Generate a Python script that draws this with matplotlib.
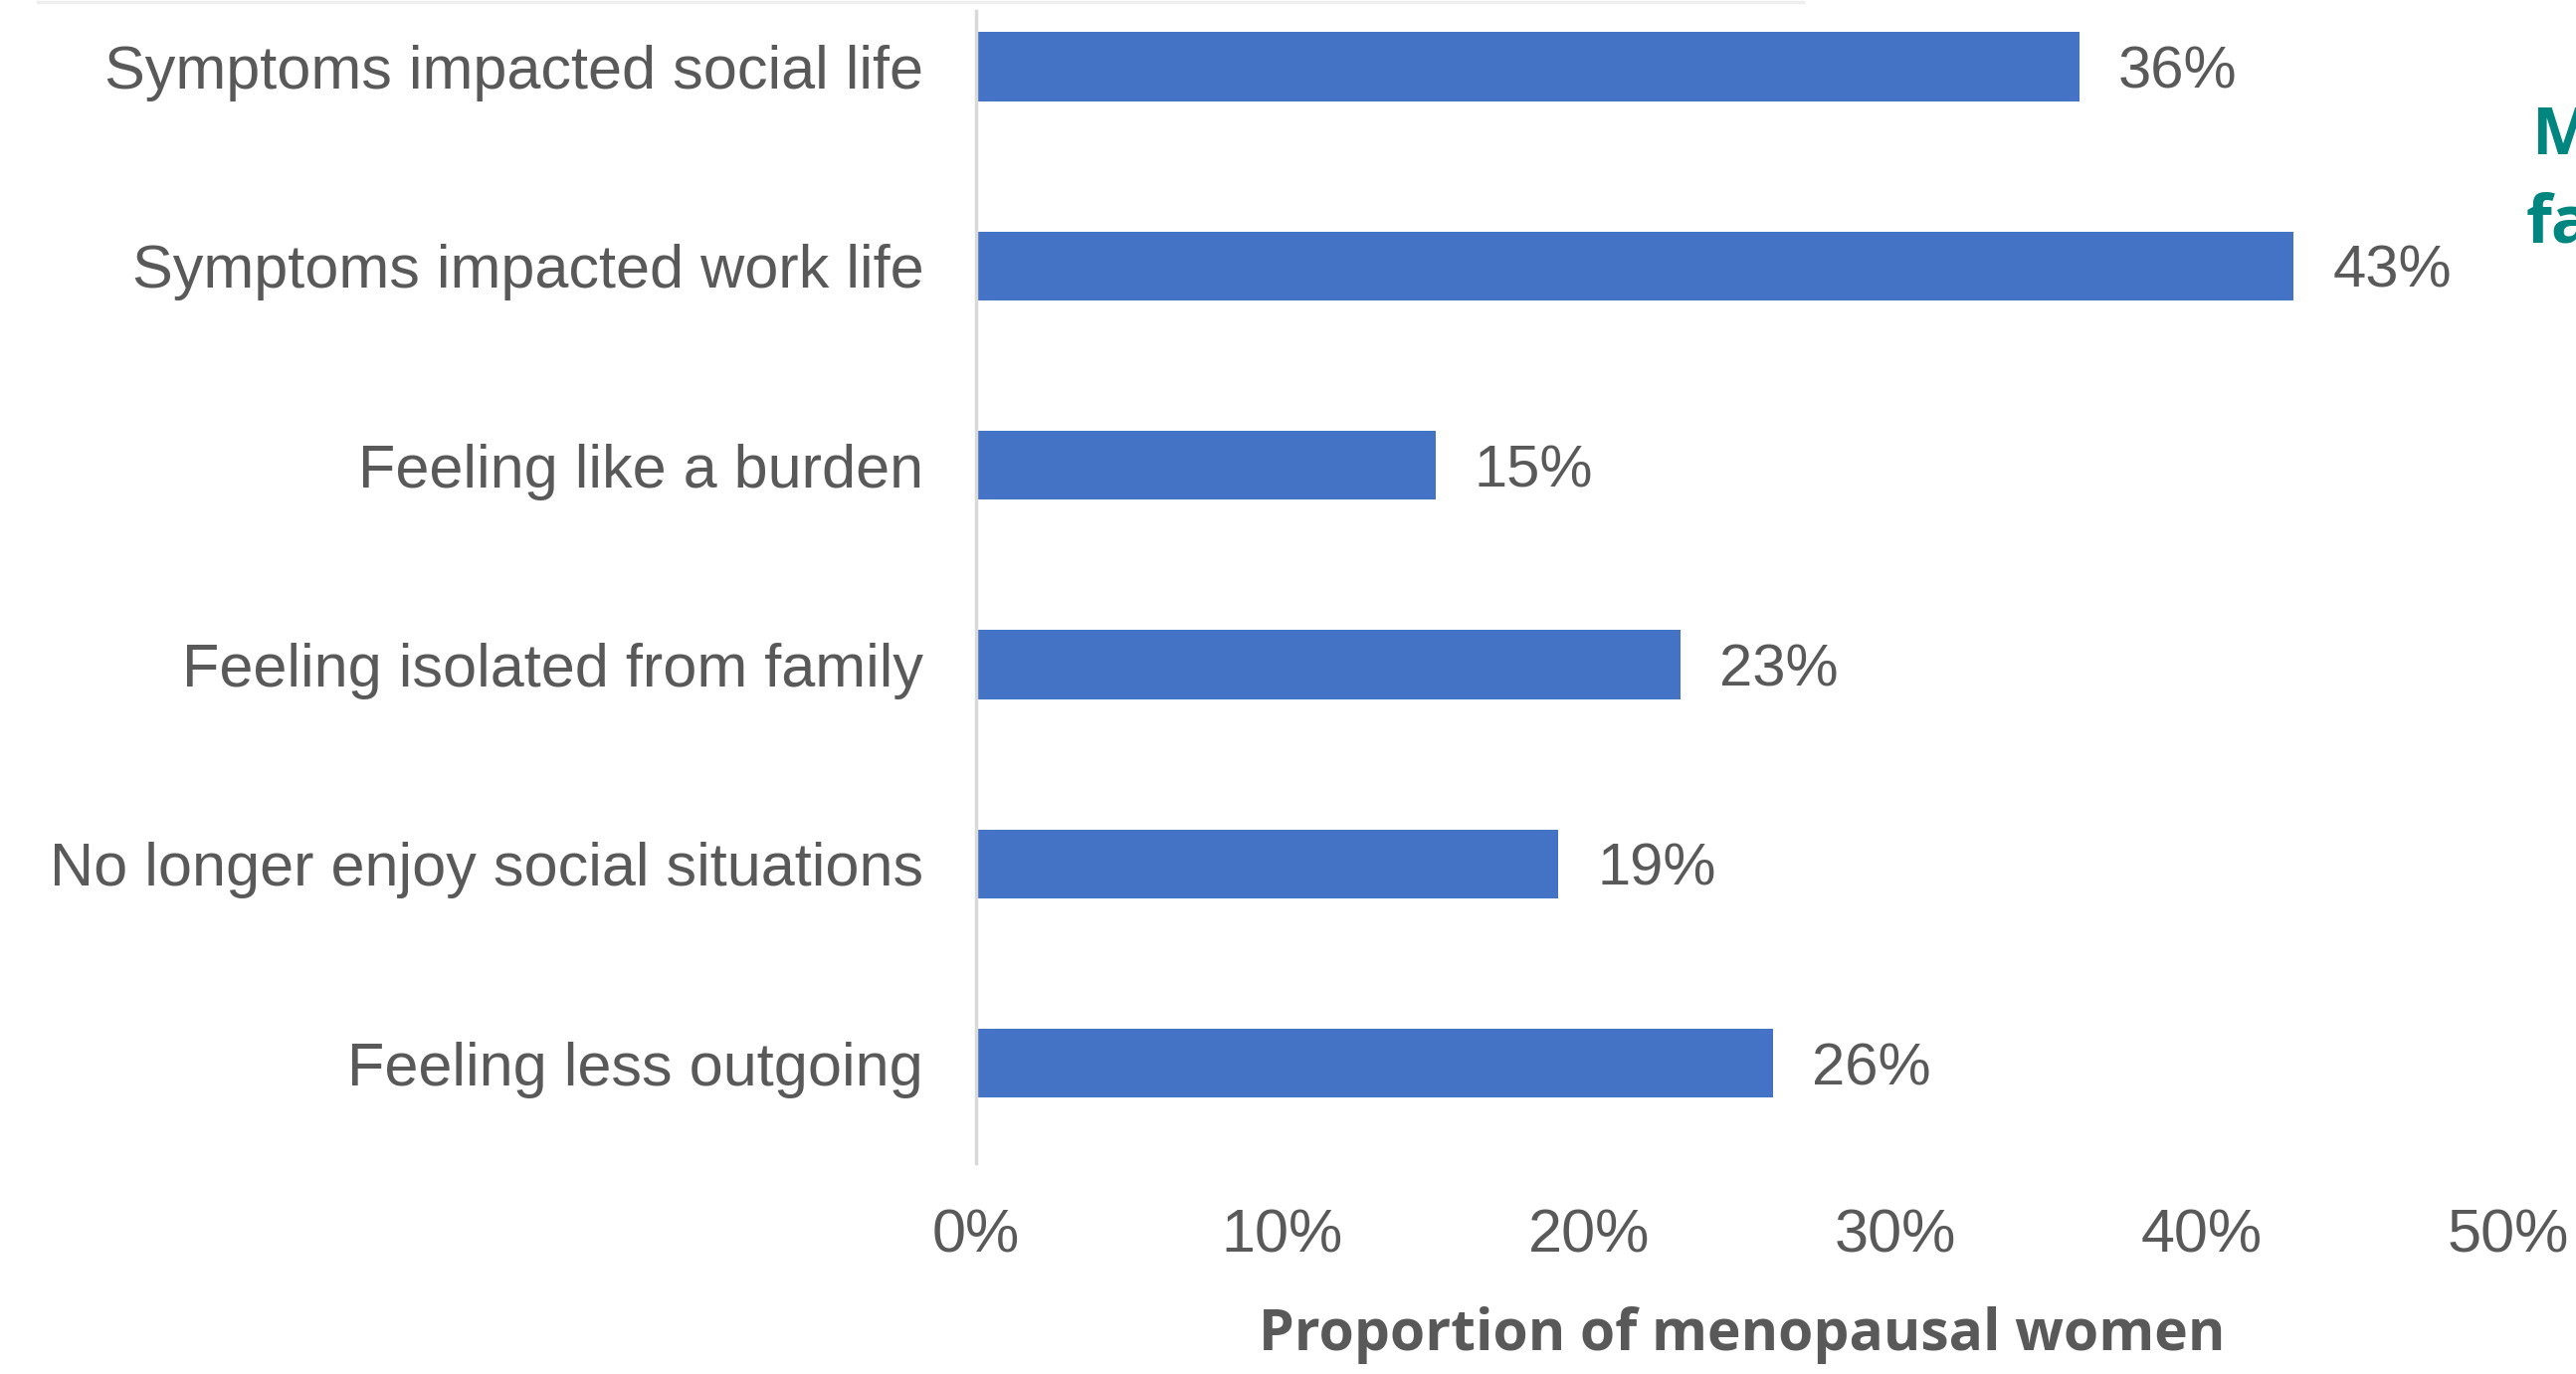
import matplotlib.pyplot as plt
from matplotlib.lines import Line2D

# data
labels = ['Symptoms impacted social life', 'Symptoms impacted work life',
          'Feeling like a burden', 'Feeling isolated from family',
          'No longer enjoy social situations', 'Feeling less outgoing']
values = [0.36, 0.43, 0.15, 0.23, 0.19, 0.26]
xticks = [0, 0.1, 0.2, 0.3, 0.4, 0.5]
xticklabels = ['0%', '10%', '20%', '30%', '40%', '50%']
xlabel = 'Proportion of menopausal women'

grey = '#595959'
blue = '#4472C4'
teal = '#00857F'
font = 'Liberation Sans'

W, H = 2589, 1381
fig = plt.figure(figsize=(W / 100, H / 100), dpi=100)
ax = fig.add_axes([981 / W, 1 - 1169 / H, (2521 - 981) / W, (1169 - 11) / H])

n = len(labels)
ypos = list(range(n - 1, -1, -1))
ax.barh(ypos, values, height=0.346, color=blue)
ax.set_xlim(0, 0.5)
ax.set_ylim(-0.5, n - 1 + 0.28)

for y, v in zip(ypos, values):
    ax.annotate(f'{round(v * 100)}%', (v, y), xytext=(28, 0),
                textcoords='offset points', va='center_baseline', ha='left',
                fontsize=43, color=grey, family=font)

ax.set_yticks(ypos)
ax.set_yticklabels(labels, fontsize=44, color=grey, family=font)
ax.set_xticks(xticks)
ax.set_xticklabels(xticklabels, fontsize=44, color=grey, family=font)
ax.tick_params(axis='y', length=0, pad=38)
ax.tick_params(axis='x', length=0, pad=33)

for s in ['top', 'right', 'bottom']:
    ax.spines[s].set_visible(False)
ax.spines['left'].set_color('#D9D9D9')
ax.spines['left'].set_linewidth(2.5)

fig.text(1751 / W, 1 - 1342 / H, xlabel, ha='center', va='center',
         fontsize=41, fontweight='bold', color=grey, family='Open Sans')

# separator line at top
fig.add_artist(Line2D([38 / W, 1812 / W], [1 - 1.5 / H, 1 - 1.5 / H],
                      color='#EEEEEE', lw=2.5))

# clipped heading at the right edge
fig.text(2545 / W, 1 - 155 / H, 'M', ha='left', va='baseline',
         fontsize=48, fontweight='bold', color=teal, family='Open Sans')
fig.text(2539 / W, 1 - 243 / H, 'fa', ha='left', va='baseline',
         fontsize=48, fontweight='bold', color=teal, family='Open Sans')

fig.savefig('out.png', dpi=100)
